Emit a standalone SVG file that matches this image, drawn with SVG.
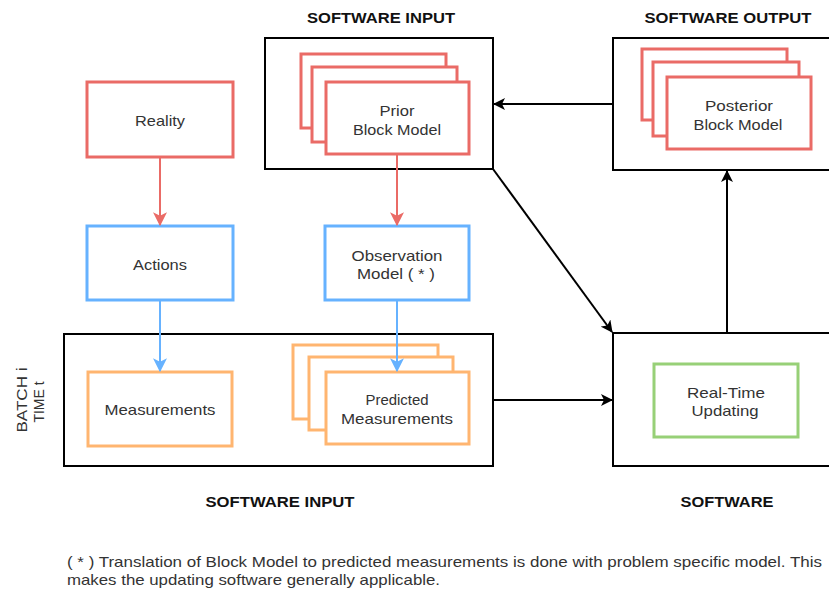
<svg xmlns="http://www.w3.org/2000/svg" width="829" height="592" viewBox="0 0 829 592">
<defs>
<marker id="ak" markerWidth="12" markerHeight="12" viewBox="0 0 12 12" refX="11" refY="6" orient="auto" markerUnits="userSpaceOnUse"><path d="M0,0 L12,6 L0,12 L3,6 Z" fill="#000"/></marker>
<marker id="ar" markerWidth="14" markerHeight="14" viewBox="0 0 12 12" refX="11" refY="6" orient="auto" markerUnits="userSpaceOnUse"><path d="M0,0 L12,6 L0,12 L3,6 Z" fill="#EA6B66"/></marker>
<marker id="ab" markerWidth="14" markerHeight="14" viewBox="0 0 12 12" refX="11" refY="6" orient="auto" markerUnits="userSpaceOnUse"><path d="M0,0 L12,6 L0,12 L3,6 Z" fill="#66B2FF"/></marker>
</defs>
<style>
.c{fill:#fff;stroke:#000;stroke-width:2}
.r{fill:#fff;stroke:#EA6B66;stroke-width:3}
.b{fill:#fff;stroke:#66B2FF;stroke-width:3}
.o{fill:#fff;stroke:#FFB570;stroke-width:3}
.g{fill:#fff;stroke:#97D077;stroke-width:3}
.t{font-family:"Liberation Sans",Arial,sans-serif;font-size:15px;fill:#333;text-anchor:middle}
.h{font-family:"Liberation Sans",Arial,sans-serif;font-size:15px;font-weight:bold;fill:#111;text-anchor:middle}
.f{font-family:"Liberation Sans",Arial,sans-serif;font-size:15px;fill:#333}
.lk{stroke:#000;stroke-width:2;fill:none}
.lr{stroke:#EA6B66;stroke-width:2;fill:none}
.lb{stroke:#66B2FF;stroke-width:2;fill:none}
</style>
<rect width="829" height="592" fill="#fff"/>
<g id="sw-input-top">
<rect class="c" x="265" y="38" width="228" height="131"/>
<text class="h" x="381" y="23" textLength="148" lengthAdjust="spacingAndGlyphs">SOFTWARE INPUT</text>
</g>
<g id="sw-output">
<rect class="c" x="613" y="38" width="230" height="132"/>
<text class="h" x="728" y="23" textLength="167" lengthAdjust="spacingAndGlyphs">SOFTWARE OUTPUT</text>
</g>
<g id="sw-input-bottom">
<rect class="c" x="64" y="334" width="429" height="132"/>
<text class="h" x="280" y="507" textLength="149" lengthAdjust="spacingAndGlyphs">SOFTWARE INPUT</text>
<text class="f" transform="translate(27,400) rotate(-90)" text-anchor="middle" textLength="65" lengthAdjust="spacingAndGlyphs">BATCH i</text>
<text class="f" transform="translate(44,402) rotate(-90)" text-anchor="middle" textLength="41" lengthAdjust="spacingAndGlyphs">TIME t</text>
</g>
<g id="software">
<rect class="c" x="613" y="333" width="230" height="133"/>
<text class="h" x="727" y="507" textLength="93" lengthAdjust="spacingAndGlyphs">SOFTWARE</text>
</g>
<g id="reality">
<rect class="r" x="87" y="82" width="146" height="75"/>
<text class="t" x="160" y="126" textLength="50" lengthAdjust="spacingAndGlyphs">Reality</text>
</g>
<g id="actions">
<rect class="b" x="87" y="226" width="146" height="74"/>
<text class="t" x="160" y="270" textLength="54" lengthAdjust="spacingAndGlyphs">Actions</text>
</g>
<g id="observation-model">
<rect class="b" x="325" y="226" width="144" height="74"/>
<text class="t" x="397" y="261" textLength="91" lengthAdjust="spacingAndGlyphs">Observation</text>
<text class="t" x="396" y="279" textLength="78" lengthAdjust="spacingAndGlyphs">Model ( * )</text>
</g>
<g id="prior-block-model">
<rect class="r" x="301" y="54" width="145" height="74"/>
<rect class="r" x="312" y="67" width="145" height="75"/>
<rect class="r" x="326" y="82" width="143" height="72"/>
<text class="t" x="397" y="116" textLength="35" lengthAdjust="spacingAndGlyphs">Prior</text>
<text class="t" x="397" y="135" textLength="88" lengthAdjust="spacingAndGlyphs">Block Model</text>
</g>
<g id="posterior-block-model">
<rect class="r" x="642" y="49" width="145" height="71"/>
<rect class="r" x="653" y="62" width="146" height="74"/>
<rect class="r" x="667" y="77" width="144" height="72"/>
<text class="t" x="739" y="111" textLength="68" lengthAdjust="spacingAndGlyphs">Posterior</text>
<text class="t" x="738" y="130" textLength="89" lengthAdjust="spacingAndGlyphs">Block Model</text>
</g>
<g id="measurements">
<rect class="o" x="88" y="372" width="144" height="74"/>
<text class="t" x="160" y="415" textLength="111" lengthAdjust="spacingAndGlyphs">Measurements</text>
</g>
<g id="predicted-measurements">
<rect class="o" x="293" y="345" width="145" height="74"/>
<rect class="o" x="309" y="357" width="144" height="73"/>
<rect class="o" x="326" y="372" width="143" height="72"/>
<text class="t" x="397" y="405" textLength="63" lengthAdjust="spacingAndGlyphs">Predicted</text>
<text class="t" x="397" y="424" textLength="112" lengthAdjust="spacingAndGlyphs">Measurements</text>
</g>
<g id="real-time-updating">
<rect class="g" x="654" y="364" width="144" height="73"/>
<text class="t" x="726" y="398" textLength="78" lengthAdjust="spacingAndGlyphs">Real-Time</text>
<text class="t" x="725" y="416" textLength="67" lengthAdjust="spacingAndGlyphs">Updating</text>
</g>
<g id="connectors">
<line class="lr" x1="160" y1="157" x2="160" y2="225" marker-end="url(#ar)"/>
<line class="lr" x1="397" y1="154" x2="397" y2="225" marker-end="url(#ar)"/>
<line class="lb" x1="160" y1="300" x2="160" y2="371" marker-end="url(#ab)"/>
<line class="lb" x1="397" y1="300" x2="397" y2="371" marker-end="url(#ab)"/>
<line class="lk" x1="613" y1="104" x2="494" y2="104" marker-end="url(#ak)"/>
<line class="lk" x1="493" y1="169" x2="612" y2="332" marker-end="url(#ak)"/>
<line class="lk" x1="493" y1="400" x2="612" y2="400" marker-end="url(#ak)"/>
<line class="lk" x1="727" y1="333" x2="727" y2="171" marker-end="url(#ak)"/>
</g>
<g id="footnote">
<text class="f" x="67" y="567" textLength="755" lengthAdjust="spacingAndGlyphs">( * ) Translation of Block Model to predicted measurements is done with problem specific model. This</text>
<text class="f" x="67" y="585" textLength="373" lengthAdjust="spacingAndGlyphs">makes the updating software generally applicable.</text>
</g>
</svg>
